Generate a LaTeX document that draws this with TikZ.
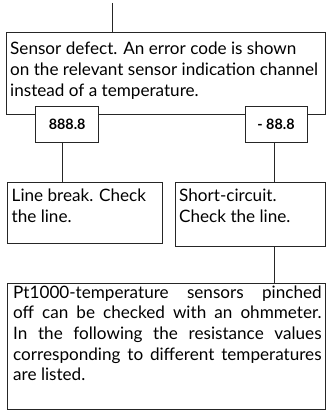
\documentclass[tikz,border=0pt]{standalone}
\usepackage{fontspec}
\setmainfont{Lato}
\newlength\reflen
\newlength\reflenb
\hbadness=10000
\AtBeginDocument{%
\settowidth\reflen{\fontsize{10}{12}\selectfont on the relevant sensor indication channel}%
\pgfmathsetmacro\fsA{10*308/\reflen}%
\settowidth\reflenb{\fontsize{10}{12}\selectfont\bfseries 888.8}%
\pgfmathsetmacro\fsB{10*36.7/\reflenb}}
\begin{document}
\begin{tikzpicture}[x=1pt,y=-1pt,
  line/.style={draw=black!85, line width=0.8pt},
  box/.style={line, inner sep=0pt, anchor=north west},
  code/.style={line, fill=white, inner sep=0pt, minimum height=36pt,
    font=\bfseries\fontsize{\fsB}{12}\selectfont},
  txt/.style={inner sep=0pt, anchor=base west, font=\fontsize{\fsA}{21}\selectfont}]
\useasboundingbox (0,0) rectangle (326,411);
% boxes
\node[box, minimum width=319pt, minimum height=82pt] (defect) at (6,32.3) {};
\node[box, minimum width=155pt, minimum height=61.3pt] (lb) at (7,181.7) {};
\node[box, minimum width=150pt, minimum height=64.3pt] (sc) at (175,181.7) {};
\node[box, minimum width=318pt, minimum height=126pt] (pt) at (7,283.3) {};
\node[code, minimum width=63pt] (a) at (67.2,124.7) {888.8};
\node[code, minimum width=62pt] (b) at (276,124.7) {- 88.8};
% texts
\node[txt] (tdefect) at (10,55) {\vtop{\baselineskip=21pt
  \hbox{Sensor defect. An error code is shown}
  \hbox{on the relevant sensor indication channel}
  \hbox{instead of a temperature.}}};
\node[txt] (tlb) at (11.5,201.7) {\vtop{\baselineskip=21pt
  \hbox{Line break. Check}
  \hbox{the line.}}};
\node[txt] (tsc) at (179,201.7) {\vtop{\baselineskip=21pt
  \hbox{Short-circuit.}
  \hbox{Check the line.}}};
\node[txt] (tpt) at (13,298.3) {\vtop{\baselineskip=20.6pt
  \hbox to 308.4pt{Pt1000-temperature sensors pinched}
  \hbox to 308.4pt{off can be checked with an ohmmeter.}
  \hbox to 308.4pt{In the following the resistance values}
  \hbox to 308.4pt{corresponding to different temperatures}
  \hbox{are listed.}}};
% connectors
\coordinate (top) at (112.3,3);
\draw[line] (top) -- (top |- defect.north);
\draw[line] ([xshift=-4.5pt]a.south) -- ([xshift=-4.5pt]a.south |- lb.north);
\draw[line] ([xshift=-1.5pt]b.south) -- ([xshift=-1.5pt]b.south |- sc.north);
\draw[line] ([xshift=-1.5pt]b.south |- sc.south) -- ([xshift=-1.5pt]b.south |- pt.north);
\end{tikzpicture}
\end{document}
